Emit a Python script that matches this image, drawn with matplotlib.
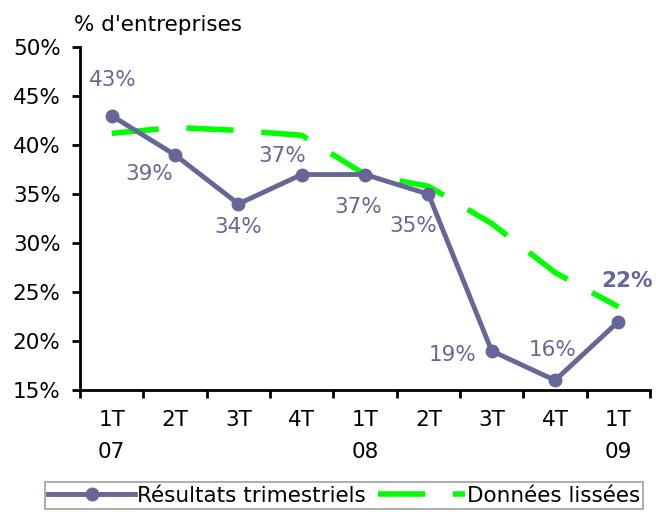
import matplotlib.pyplot as plt
from matplotlib.ticker import FixedLocator, NullFormatter

quarters = ["1T\n07", "2T", "3T", "4T", "1T\n08", "2T", "3T", "4T", "1T\n09"]
resultats = [43, 39, 34, 37, 37, 35, 19, 16, 22]
lissees = [41.2, 41.8, 41.5, 41.0, 37.0, 35.8, 32.0, 27.0, 23.5]

# where each value label sits relative to its point (dx, dy in px)
label_off = [(1, 36), (-26, -19), (0, -23), (-20, 19), (-7, -32), (-15, -32), (-39, -4), (-3, 30), (9, 41)]

purple = "#666699"
green = "#00ff00"

fig = plt.figure(figsize=(6.56, 5.12), dpi=100)
ax = fig.add_axes([0.122, 0.238, 0.869, 0.67])

x = list(range(len(quarters)))
ax.plot(x, resultats, color=purple, lw=3.5, marker="o", ms=9, zorder=3,
        label="Résultats trimestriels")
ax.plot(x, lissees, color=green, lw=4, dashes=(8.5, 5), zorder=2,
        label="Données lissées")

for i, v in enumerate(resultats):
    dx, dy = label_off[i]
    ax.annotate(f"{v}%", (i, v), xytext=(dx, dy), textcoords="offset pixels",
                ha="center", va="center", color=purple, fontsize=15.5,
                fontweight="bold" if i == len(resultats) - 1 else "normal")

ax.set_xlim(-0.5, len(quarters) - 0.5)
ax.set_ylim(15, 50)
ax.set_yticks(range(15, 51, 5))
ax.set_yticklabels([f"{t}%" for t in range(15, 51, 5)], fontsize=15.5)
ax.set_xticks(x)
ax.set_xticklabels(quarters, fontsize=15.5, linespacing=1.75, va="top")
ax.tick_params(axis="x", which="major", length=0, pad=14)
ax.xaxis.set_minor_locator(FixedLocator([i - 0.5 for i in range(len(quarters) + 1)]))
ax.xaxis.set_minor_formatter(NullFormatter())
ax.tick_params(axis="x", which="minor", length=6, width=2, direction="out")
ax.tick_params(axis="y", length=6, width=2, direction="out", pad=8)

for s in ["top", "right"]:
    ax.spines[s].set_visible(False)
for s in ["left", "bottom"]:
    ax.spines[s].set_linewidth(2)

fig.text(0.113, 0.952, "% d'entreprises", fontsize=15.5, va="center")

leg = fig.legend(loc="upper left", bbox_to_anchor=(0.069, 0.058), ncol=2,
                 fontsize=15.5, frameon=True, fancybox=False, handlelength=4,
                 borderpad=0.15, columnspacing=0.6, handletextpad=0.1,
                 borderaxespad=0)
leg.get_frame().set_edgecolor("#888888")
leg.get_frame().set_linewidth(1.2)

fig.savefig("out.png", dpi=100)
